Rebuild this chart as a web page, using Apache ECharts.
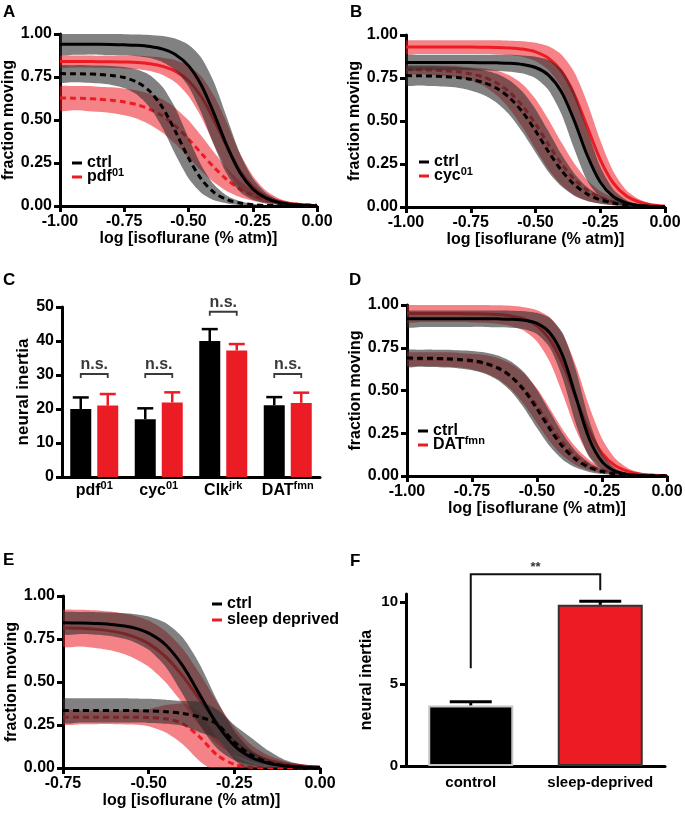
<!DOCTYPE html>
<html><head><meta charset="utf-8">
<script src="https://cdn.jsdelivr.net/npm/echarts@6/dist/echarts.min.js"></script>
<style>html,body{margin:0;padding:0;background:#fff}#c{width:685px;height:813px}</style>
</head><body><div id="c"></div>
<script>
// ---------------- DATA ----------------
// x samples (log [isoflurane]) for panels A, B, D
const doseX = [-1,-0.95,-0.9,-0.85,-0.8,-0.75,-0.7,-0.65,-0.6,-0.55,-0.5,-0.45,-0.4,-0.35,-0.3,-0.25,-0.2,-0.15,-0.1,-0.05,0];
// x samples for panel E
const doseXE = [-0.75,-0.7,-0.65,-0.6,-0.55,-0.5,-0.45,-0.4,-0.35,-0.3,-0.25,-0.2,-0.15,-0.1,-0.05,0];

// Panel A (ctrl vs pdf01): fitted curve values and half-width of the confidence band
const A_ctrlSolid    = [0.94,0.94,0.94,0.94,0.939,0.937,0.934,0.927,0.912,0.880,0.816,0.702,0.534,0.348,0.195,0.099,0.047,0.021,0.010,0.004,0.002];
const A_ctrlSolidCI  = [0.06,0.06,0.06,0.06,0.061,0.062,0.063,0.067,0.076,0.092,0.121,0.160,0.183,0.164,0.112,0.063,0.032,0.015,0.007,0.003,0.001];
const A_mutSolid     = [0.84,0.84,0.84,0.839,0.839,0.837,0.834,0.827,0.812,0.783,0.728,0.635,0.497,0.344,0.205,0.113,0.057,0.028,0.013,0.006,0.003];
const A_mutSolidCI   = [0.035,0.035,0.035,0.035,0.036,0.037,0.039,0.042,0.050,0.065,0.088,0.119,0.142,0.136,0.101,0.063,0.034,0.017,0.008,0.004,0.002];
const A_ctrlDashed   = [0.770,0.769,0.768,0.765,0.759,0.747,0.720,0.666,0.570,0.431,0.279,0.156,0.078,0.037,0.017,0.008,0.003,0.002,0.001,0,0];
const A_ctrlDashedCI = [0.050,0.050,0.051,0.052,0.055,0.061,0.073,0.094,0.120,0.135,0.118,0.080,0.045,0.022,0.011,0.005,0.002,0.001,0,0,0];
const A_mutDashed    = [0.628,0.627,0.625,0.621,0.615,0.605,0.589,0.562,0.522,0.464,0.390,0.306,0.224,0.153,0.099,0.062,0.037,0.022,0.013,0.008,0.005];
const A_mutDashedCI  = [0.071,0.071,0.072,0.073,0.075,0.078,0.082,0.089,0.097,0.105,0.108,0.102,0.087,0.067,0.047,0.031,0.020,0.012,0.007,0.004,0.002];

// Panel B (ctrl vs cyc01)
const B_ctrlSolid    = [0.84,0.84,0.84,0.84,0.84,0.84,0.839,0.838,0.836,0.829,0.811,0.767,0.670,0.501,0.300,0.145,0.061,0.024,0.009,0.003,0.001];
const B_ctrlSolidCI  = [0.045,0.045,0.045,0.045,0.045,0.045,0.046,0.047,0.049,0.052,0.063,0.087,0.129,0.165,0.148,0.090,0.042,0.017,0.007,0.002,0.001];
const B_mutSolid     = [0.93,0.93,0.93,0.93,0.93,0.93,0.929,0.928,0.925,0.918,0.902,0.865,0.790,0.654,0.465,0.276,0.140,0.065,0.029,0.012,0.005];
const B_mutSolidCI   = [0.04,0.04,0.04,0.04,0.04,0.04,0.040,0.041,0.042,0.046,0.053,0.069,0.096,0.129,0.141,0.112,0.068,0.034,0.016,0.007,0.003];
const B_ctrlDashed   = [0.764,0.763,0.761,0.758,0.753,0.742,0.723,0.690,0.635,0.552,0.443,0.322,0.213,0.130,0.075,0.042,0.023,0.012,0.007,0.004,0.002];
const B_ctrlDashedCI = [0.055,0.056,0.057,0.058,0.060,0.065,0.072,0.084,0.100,0.118,0.126,0.118,0.093,0.064,0.040,0.023,0.013,0.007,0.004,0.002,0.001];
const B_mutDashed    = [0.799,0.798,0.796,0.792,0.786,0.774,0.755,0.721,0.667,0.588,0.483,0.364,0.252,0.161,0.097,0.057,0.032,0.018,0.010,0.006,0.003];
const B_mutDashedCI  = [0.025,0.026,0.028,0.030,0.033,0.039,0.052,0.072,0.097,0.125,0.145,0.145,0.124,0.092,0.060,0.036,0.022,0.012,0.006,0.003,0.002];

// Panel D (ctrl vs DATfmn)
const D_ctrlSolid    = [0.92,0.92,0.92,0.92,0.92,0.92,0.920,0.919,0.917,0.911,0.892,0.836,0.699,0.460,0.221,0.084,0.028,0.009,0.003,0.001,0];
const D_ctrlSolidCI  = [0.048,0.048,0.048,0.048,0.048,0.048,0.048,0.049,0.050,0.053,0.062,0.087,0.133,0.157,0.108,0.048,0.017,0.006,0.002,0.001,0];
const D_mutSolid     = [0.95,0.95,0.95,0.95,0.950,0.949,0.948,0.944,0.936,0.918,0.878,0.796,0.651,0.455,0.265,0.133,0.061,0.027,0.011,0.005,0.002];
const D_mutSolidCI   = [0.05,0.05,0.05,0.05,0.050,0.051,0.052,0.054,0.059,0.069,0.092,0.131,0.176,0.188,0.146,0.086,0.043,0.019,0.008,0.004,0.002];
const D_ctrlDashed   = [0.690,0.689,0.688,0.686,0.682,0.675,0.660,0.632,0.582,0.502,0.393,0.273,0.169,0.096,0.051,0.026,0.013,0.007,0.003,0.002,0.001];
const D_ctrlDashedCI = [0.050,0.050,0.051,0.052,0.053,0.056,0.062,0.072,0.087,0.104,0.112,0.101,0.075,0.047,0.027,0.014,0.007,0.004,0.002,0.001,0];
const D_mutDashed    = [0.684,0.684,0.683,0.681,0.677,0.669,0.655,0.628,0.582,0.510,0.410,0.297,0.193,0.115,0.064,0.034,0.018,0.009,0.005,0.003,0.001];
const D_mutDashedCI  = [0.040,0.040,0.041,0.042,0.043,0.046,0.052,0.061,0.075,0.091,0.101,0.096,0.076,0.051,0.031,0.017,0.009,0.005,0.002,0.001,0.001];

// Panel E (ctrl vs sleep deprived)
const E_ctrlSolid    = [0.844,0.843,0.840,0.833,0.818,0.784,0.715,0.592,0.423,0.253,0.130,0.061,0.027,0.012,0.005,0.002];
const E_ctrlSolidCI  = [0.064,0.064,0.066,0.070,0.079,0.097,0.128,0.165,0.176,0.140,0.085,0.043,0.020,0.009,0.004,0.002];
const E_mutSolid     = [0.816,0.813,0.806,0.793,0.768,0.723,0.646,0.533,0.396,0.261,0.156,0.086,0.046,0.024,0.012,0.006];
const E_mutSolidCI   = [0.106,0.107,0.110,0.114,0.122,0.134,0.149,0.159,0.150,0.120,0.081,0.048,0.027,0.014,0.007,0.004];
const E_ctrlDashed   = [0.335,0.335,0.335,0.335,0.334,0.332,0.327,0.317,0.296,0.255,0.150,0.075,0.032,0.012,0.004,0.001];
const E_ctrlDashedCI = [0.07,0.07,0.07,0.07,0.07,0.07,0.07,0.072,0.089,0.085,0.10,0.10,0.068,0.033,0.016,0.009];
const E_mutDashed    = [0.295,0.295,0.295,0.295,0.295,0.293,0.286,0.257,0.178,0.075,0.021,0.005,0.001,0,0,0];
const E_mutDashedCI  = [0.04,0.04,0.04,0.04,0.042,0.05,0.08,0.12,0.14,0.10,0.05,0.02,0.005,0,0,0];

// Legend / series names
const ctrlName = 'ctrl';
const mutNames = ['pdf01','cyc01','DATfmn','sleep deprived'];
const mutGene  = ['pdf','cyc','DAT','sleep deprived'];
const mutSup   = ['01','01','fmn',''];

// Panel C: neural inertia per genotype
const cGenes    = ['pdf','cyc','Clk','DAT'];
const cAlleles  = ['01','01','jrk','fmn'];
const cCtrl     = [20.0,17.0,40.0,21.1];
const cCtrlErr  = [23.4,20.2,43.5,23.5];
const cMut      = [21.0,21.9,37.2,21.8];
const cMutErr   = [24.4,24.9,39.1,24.8];
const cNsLevel  = [30.3,30.3,48.6,30.3];
const cNsText   = ['n.s.','n.s.','n.s.','n.s.'];

// Panel F
const fCats     = ['control','sleep-deprived'];
const fMean     = [3.70,9.84];
const fErr      = [3.92,10.05];
const fSigFrom  = [0];
const fSigTo    = [1];
const fSigTop   = [11.7];
const fSigLeftEnd  = [5.97];
const fSigRightEnd = [10.73];
const fSigLabel = ['**'];

// Ticks
const yTicksF = [0,5,10];

// ---------------- STYLE ----------------
const FONT = "'Liberation Sans', Arial, Helvetica, sans-serif";
const RED = '#EC1C24';
const GRAY_BAND = 'rgba(45,45,45,0.6)';
const RED_BAND = 'rgba(236,28,36,0.55)';
const TXT = {fontFamily: FONT, fontWeight: 'bold', color: '#000'};

const grids = [
  {left:60,  top:34,  width:257, height:172},
  {left:406, top:35,  width:259, height:172},
  {left:62,  top:307, width:258, height:170},
  {left:407, top:305, width:260, height:171},
  {left:63,  top:596, width:257, height:172},
  {left:406, top:594, width:259, height:172}
].map(g => Object.assign({outerBoundsMode:'none', containLabel:false}, g));

const axisLineStyle = {show:true, onZero:false, lineStyle:{color:'#000', width:3}};
const axisTickStyle = {show:true, length:6, lineStyle:{color:'#000', width:3}};

function doseXAxis(gi, min) {
  return {type:'value', gridIndex:gi, min:min, max:0, interval:0.25,
    name:'log [isoflurane (% atm)]', nameLocation:'middle', nameGap:24,
    nameTextStyle:Object.assign({fontSize:16}, TXT),
    axisLine:axisLineStyle, axisTick:axisTickStyle, splitLine:{show:false},
    axisLabel:Object.assign({fontSize:16, margin:8, formatter:v => v.toFixed(2)}, TXT)};
}
function doseYAxis(gi, gap) {
  return {type:'value', gridIndex:gi, min:0, max:1, interval:0.25,
    name:'fraction moving', nameLocation:'middle', nameGap:gap,
    nameTextStyle:Object.assign({fontSize:16}, TXT),
    axisLine:axisLineStyle, axisTick:axisTickStyle, splitLine:{show:false},
    axisLabel:Object.assign({fontSize:16, margin:8, formatter:v => v.toFixed(2)}, TXT)};
}

// confidence band drawn as a polygon through the axis scales
function band(gi, xs, c, w, color, z) {
  return {type:'custom', xAxisIndex:gi, yAxisIndex:gi, z:z, silent:true, clip:true,
    data:[[xs[0], c[0]]],
    renderItem:(params, api) => {
      const up = xs.map((x,i) => api.coord([x, c[i] + w[i]]));
      const lo = xs.map((x,i) => api.coord([x, c[i] - w[i]])).reverse();
      const pts = up.concat(lo);
      let x0 = Infinity, y0 = Infinity, x1 = -Infinity, y1 = -Infinity;
      pts.forEach(p => { x0 = Math.min(x0, p[0]); y0 = Math.min(y0, p[1]); x1 = Math.max(x1, p[0]); y1 = Math.max(y1, p[1]); });
      return {type:'polygon', shape:{points: pts, smooth:0.25, smoothConstraint:[[x0,y0],[x1,y1]]},
        style:{fill:color, stroke:null}};
    }};
}
function curve(gi, xs, c, name, color, dashed, z) {
  return {type:'line', name:name, xAxisIndex:gi, yAxisIndex:gi, data: xs.map((x,i) => [x, c[i]]),
    smooth:0.3, showSymbol:false, silent:true, z:z,
    itemStyle:{color:color},
    lineStyle:{color:color, width:3, type: dashed ? [6,4] : 'solid'}};
}
function dosePanel(gi, xs, d) {
  return [
    band(gi, xs, d.mutSolid, d.mutSolidCI, RED_BAND, 1),
    band(gi, xs, d.mutDashed, d.mutDashedCI, RED_BAND, 1),
    curve(gi, xs, d.mutSolid, d.mutName, RED, false, 2),
    curve(gi, xs, d.mutDashed, d.mutName, RED, true, 2),
    band(gi, xs, d.ctrlSolid, d.ctrlSolidCI, GRAY_BAND, 3),
    band(gi, xs, d.ctrlDashed, d.ctrlDashedCI, GRAY_BAND, 3),
    curve(gi, xs, d.ctrlSolid, ctrlName, '#000', false, 4),
    curve(gi, xs, d.ctrlDashed, ctrlName, '#000', true, 4)
  ];
}

// rich-text superscript: tall box for the main part, small top-aligned box for the superscript
function richFor(mainSize, supSize, mainLH) {
  return {
    m:{fontFamily:FONT, fontWeight:'bold', fontSize:mainSize, lineHeight:mainLH, color:'#000'},
    sup:{fontFamily:FONT, fontWeight:'bold', fontSize:supSize, lineHeight:6, verticalAlign:'top', color:'#000'}
  };
}
function supFormat(name) {
  const i = mutNames.indexOf(name);
  if (i < 0 || !mutSup[i]) return name;
  return '{m|' + mutGene[i] + '}{sup|' + mutSup[i] + '}';
}
function legendAt(left, top, mi) {
  return {left:left, top:top, orient:'vertical', padding:0, itemGap: mutSup[mi] ? -4 : 0, itemWidth:10, itemHeight:3,
    icon:'rect', selectedMode:false,
    data:[{name:ctrlName, itemStyle:{color:'#000'}}, {name:mutNames[mi], itemStyle:{color:RED}}],
    formatter:supFormat,
    textStyle:Object.assign({fontSize:16, lineHeight:14, rich:richFor(16, 11, 20)}, TXT)};
}

const series = [].concat(
  dosePanel(0, doseX, {mutName:mutNames[0], ctrlSolid:A_ctrlSolid, ctrlSolidCI:A_ctrlSolidCI, mutSolid:A_mutSolid, mutSolidCI:A_mutSolidCI,
    ctrlDashed:A_ctrlDashed, ctrlDashedCI:A_ctrlDashedCI, mutDashed:A_mutDashed, mutDashedCI:A_mutDashedCI}),
  dosePanel(1, doseX, {mutName:mutNames[1], ctrlSolid:B_ctrlSolid, ctrlSolidCI:B_ctrlSolidCI, mutSolid:B_mutSolid, mutSolidCI:B_mutSolidCI,
    ctrlDashed:B_ctrlDashed, ctrlDashedCI:B_ctrlDashedCI, mutDashed:B_mutDashed, mutDashedCI:B_mutDashedCI}),
  dosePanel(3, doseX, {mutName:mutNames[2], ctrlSolid:D_ctrlSolid, ctrlSolidCI:D_ctrlSolidCI, mutSolid:D_mutSolid, mutSolidCI:D_mutSolidCI,
    ctrlDashed:D_ctrlDashed, ctrlDashedCI:D_ctrlDashedCI, mutDashed:D_mutDashed, mutDashedCI:D_mutDashedCI}),
  dosePanel(4, doseXE, {mutName:mutNames[3], ctrlSolid:E_ctrlSolid, ctrlSolidCI:E_ctrlSolidCI, mutSolid:E_mutSolid, mutSolidCI:E_mutSolidCI,
    ctrlDashed:E_ctrlDashed, ctrlDashedCI:E_ctrlDashedCI, mutDashed:E_mutDashed, mutDashedCI:E_mutDashedCI})
);

// ---- Panel C bars ----
const C_BAR_W = 21, C_BAR_GAP = 6;
const C_OFF = (C_BAR_W + C_BAR_GAP) / 2;
function errBars(gi, means, errs, offset, color, capW, lw, z) {
  return {type:'custom', xAxisIndex:gi, yAxisIndex:gi, z:z, silent:true,
    data: means.map((m,i) => [i, m, errs[i]]),
    renderItem: (params, api) => {
      const base = api.coord([api.value(0), api.value(1)]);
      const top = api.coord([api.value(0), api.value(2)]);
      const x = base[0] + offset;
      const st = {stroke:color, lineWidth:lw};
      return {type:'group', children:[
        {type:'line', shape:{x1:x, y1:base[1], x2:x, y2:top[1]}, style:st},
        {type:'line', shape:{x1:x - capW/2, y1:top[1], x2:x + capW/2, y2:top[1]}, style:st}
      ]};
    }};
}
series.push(
  {type:'bar', xAxisIndex:2, yAxisIndex:2, data:cCtrl, barWidth:C_BAR_W, barGap:(C_BAR_GAP / C_BAR_W * 100) + '%', itemStyle:{color:'#000'}, z:3, silent:true},
  {type:'bar', xAxisIndex:2, yAxisIndex:2, data:cMut, barWidth:C_BAR_W, itemStyle:{color:RED}, z:3, silent:true},
  errBars(2, cCtrl, cCtrlErr, -C_OFF, '#000', 16, 2.5, 2),
  errBars(2, cMut, cMutErr, C_OFF, RED, 16, 2.5, 2),
  {type:'custom', xAxisIndex:2, yAxisIndex:2, z:4, silent:true,
    data: cNsLevel.map((v,i) => [i, v]),
    renderItem: (params, api) => {
      const p = api.coord([api.value(0), api.value(1)]);
      const i = params.dataIndex;
      return {type:'group', children:[
        {type:'polyline', shape:{points:[[p[0]-C_OFF, p[1]+4],[p[0]-C_OFF, p[1]],[p[0]+C_OFF, p[1]],[p[0]+C_OFF, p[1]+4]]},
          style:{stroke:'#3a3a3a', lineWidth:1.8, fill:null}},
        {type:'text', style:{text:cNsText[i], x:p[0], y:p[1]-9, align:'center', verticalAlign:'middle',
          fontFamily:FONT, fontWeight:'bold', fontSize:16, fill:'#3a3a3a'}}
      ]};
    }}
);

// ---- Panel F bars ----
series.push(
  {type:'bar', xAxisIndex:5, yAxisIndex:5, barWidth:85, z:3, silent:true,
    data: fMean.map((v,i) => ({value:v, itemStyle: i === 0
      ? {color:'#000', borderColor:'#c4c4c4', borderWidth:2}
      : {color:RED, borderColor:'#333', borderWidth:2}}))},
  errBars(5, fMean, fErr, 0, '#000', 42, 3, 4),
  {type:'custom', xAxisIndex:5, yAxisIndex:5, z:4, silent:true, clip:false,
    data: fSigTop.map((t,i) => [fSigFrom[i], fSigTo[i], t, fSigLeftEnd[i], fSigRightEnd[i]]),
    renderItem: (params, api) => {
      const a = api.coord([api.value(0), api.value(2)]);
      const b = api.coord([api.value(1), api.value(2)]);
      const la = api.coord([api.value(0), api.value(3)]);
      const rb = api.coord([api.value(1), api.value(4)]);
      return {type:'group', children:[
        {type:'polyline', shape:{points:[[la[0], la[1]],[a[0], a[1]],[b[0], b[1]],[rb[0], rb[1]]]},
          style:{stroke:'#111', lineWidth:2, fill:null}},
        {type:'text', style:{text:fSigLabel[params.dataIndex], x:(a[0]+b[0])/2, y:a[1]-7, align:'center', verticalAlign:'middle',
          fontFamily:FONT, fontWeight:'bold', fontSize:13, fill:'#333'}}
      ]};
    }}
);

const letters = [['A',3,4],['B',350,4],['C',3,272],['D',349,272],['E',3,552],['F',350,553]];

const option = {
  animation:false,
  backgroundColor:'#fff',
  textStyle:{fontFamily:FONT},
  grid:grids,
  xAxis:[
    doseXAxis(0, -1),
    doseXAxis(1, -1),
    {type:'category', gridIndex:2, data:cGenes.map((g,i) => g + '|' + cAlleles[i]),
      axisLine:axisLineStyle, axisTick:{show:false}, splitLine:{show:false},
      axisLabel:Object.assign({fontSize:16, margin:3, interval:0, lineHeight:16,
        formatter: v => { const s = v.split('|'); return '{m|' + s[0] + '}{sup|' + s[1] + '}'; },
        rich:richFor(16, 11, 22)}, TXT)},
    doseXAxis(3, -1),
    doseXAxis(4, -0.75),
    {type:'category', gridIndex:5, data:fCats,
      axisLine:axisLineStyle, axisTick:{show:false}, splitLine:{show:false},
      axisLabel:Object.assign({fontSize:15, margin:9, interval:0}, TXT)}
  ],
  yAxis:[
    doseYAxis(0, 40),
    doseYAxis(1, 39),
    {type:'value', gridIndex:2, min:0, max:50, interval:10,
      name:'neural inertia', nameLocation:'middle', nameGap:29,
      nameTextStyle:Object.assign({fontSize:17}, TXT),
      axisLine:axisLineStyle, axisTick:axisTickStyle, splitLine:{show:false},
      axisLabel:Object.assign({fontSize:16, margin:8}, TXT)},
    doseYAxis(3, 39),
    doseYAxis(4, 42),
    {type:'value', gridIndex:5, min:0, max:10.5, interval:5,
      name:'neural inertia', nameLocation:'middle', nameGap:31,
      nameTextStyle:Object.assign({fontSize:16}, TXT),
      axisLine:axisLineStyle,
      axisTick:Object.assign({customValues:yTicksF}, axisTickStyle),
      splitLine:{show:false},
      axisLabel:Object.assign({fontSize:15, margin:8, customValues:yTicksF,
        formatter: v => (yTicksF.indexOf(v) >= 0 ? String(v) : '')}, TXT)}
  ],
  legend:[
    legendAt(72, 155, 0),
    legendAt(419, 154, 1),
    legendAt(418, 423, 2),
    legendAt(212, 596, 3)
  ],
  graphic: letters.map(l => ({type:'text', left:l[1], top:l[2],
    style:{text:l[0], fontFamily:FONT, fontWeight:'bold', fontSize:17, fill:'#000'}})),
  series:series
};

const chart = echarts.init(document.getElementById('c'), null, {renderer:'canvas'});
chart.setOption(option);
</script></body></html>
